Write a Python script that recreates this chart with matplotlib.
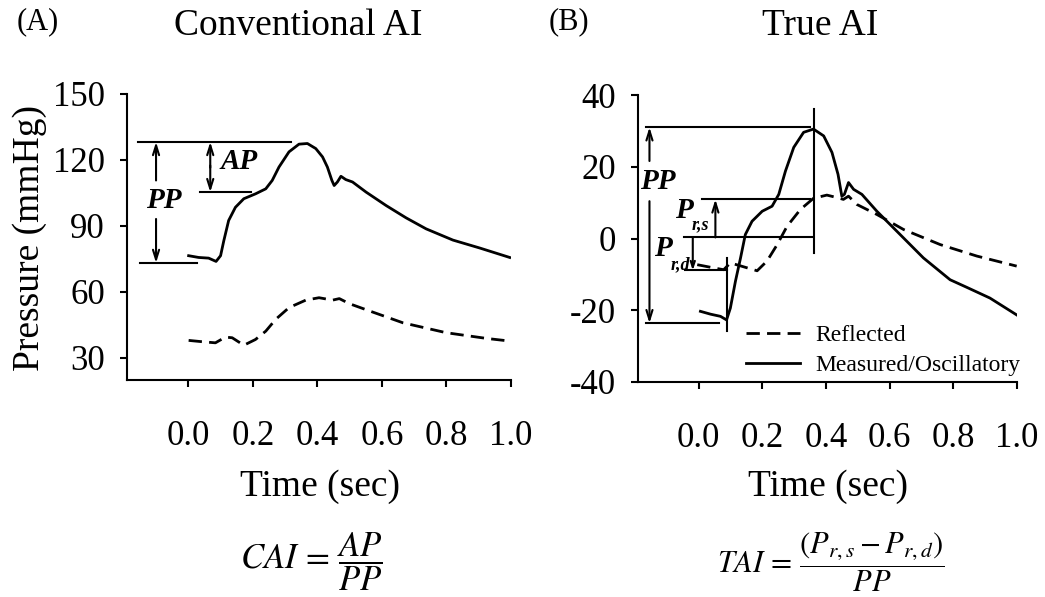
import numpy as np
import matplotlib
matplotlib.use("Agg")
import matplotlib.pyplot as plt
from matplotlib.lines import Line2D

plt.rcParams["font.family"] = ["Liberation Serif", "DejaVu Serif"]
plt.rcParams["mathtext.fontset"] = "stix"
plt.rcParams["axes.unicode_minus"] = False

# ---- Panel A: conventional augmentation index (absolute pressure, mmHg) ----
t_cai_meas = [0.001, 0.032, 0.063, 0.086, 0.10, 0.11, 0.125, 0.146, 0.172, 0.208,
              0.24, 0.26, 0.281, 0.312, 0.343, 0.369, 0.395, 0.416, 0.431, 0.445,
              0.452, 0.462, 0.473, 0.488, 0.509, 0.551, 0.613, 0.675, 0.737, 0.82,
              0.903, 0.996]
p_cai_meas = [76.5, 75.7, 75.4, 73.9, 76.5, 83.3, 92.5, 98.5, 102.4, 104.6,
              106.9, 110.7, 116.8, 123.7, 127.2, 127.5, 125.2, 121.4, 116.8, 110.7,
              108.4, 110.0, 112.6, 111.1, 110.0, 105.4, 99.3, 93.7, 88.7, 83.6,
              80.0, 75.7]

t_cai_refl = [0.001, 0.043, 0.084, 0.115, 0.136, 0.172, 0.208, 0.24, 0.271, 0.312,
              0.364, 0.405, 0.447, 0.468, 0.499, 0.571, 0.665, 0.799, 0.924, 0.996]
p_cai_refl = [38.0, 37.4, 36.9, 39.5, 39.2, 35.8, 38.4, 42.2, 47.6, 52.9,
              56.3, 57.4, 56.3, 57.0, 54.7, 50.9, 46.0, 41.5, 38.9, 37.7]

cai_peak = 128.2
cai_inflection = 105.4
cai_foot = 73.2

# ---- Panel B: true augmentation index (oscillatory pressure, mmHg) ----
t_tai_meas = [0.006, 0.038, 0.069, 0.088, 0.10, 0.116, 0.132, 0.147, 0.168, 0.20,
              0.231, 0.252, 0.273, 0.299, 0.33, 0.361, 0.393, 0.419, 0.438, 0.45,
              0.458, 0.471, 0.487, 0.513, 0.56, 0.623, 0.706, 0.79, 0.842, 0.915,
              0.999]
p_tai_meas = [-20.3, -21.1, -21.7, -22.7, -19.4, -11.9, -5.4, 1.1, 4.8, 7.6,
              9.0, 12.3, 18.8, 25.4, 29.6, 30.5, 28.6, 24.0, 17.9, 11.8,
              12.3, 15.6, 13.7, 12.3, 7.6, 2.0, -5.4, -11.5, -13.6, -16.6,
              -21.3]

t_tai_refl = [-0.004, 0.048, 0.079, 0.10, 0.184, 0.215, 0.247, 0.278, 0.32, 0.361,
              0.403, 0.435, 0.455, 0.471, 0.497, 0.56, 0.644, 0.759, 0.874, 0.999]
p_tai_refl = [-7.3, -8.2, -8.7, -6.8, -9.0, -6.3, -1.7, 3.4, 8.1, 11.2,
              12.1, 11.4, 10.9, 11.8, 9.5, 6.7, 2.5, -1.7, -4.9, -7.7]

tai_peak = 31.0
tai_prs = 10.9
tai_zero = 0.3
tai_prd = -8.9
tai_foot = -23.6

time_ticks = [0.0, 0.2, 0.4, 0.6, 0.8, 1.0]
time_labels = ["0.0", "0.2", "0.4", "0.6", "0.8", "1.0"]

W, H = 1045, 597
fig = plt.figure(figsize=(W / 100, H / 100), dpi=100)

ax_a = fig.add_axes([127 / W, 1 - 380 / H, 384 / W, 286 / H])
ax_b = fig.add_axes([638 / W, 1 - 382 / H, 379 / W, 287 / H])

LW = 2.0
DASH = (0, (4.8, 2.6))
TICK_FS = 25
LABEL_FS = 27

for ax in (ax_a, ax_b):
    for s in ("top", "right"):
        ax.spines[s].set_visible(False)
    for s in ("left", "bottom"):
        ax.spines[s].set_linewidth(1.5)
    ax.set_xlim(-0.19, 1.0)
    ax.set_xticks(time_ticks)
    ax.set_xticklabels(time_labels)
    ax.tick_params(axis="x", direction="out", length=5, width=1.5, pad=24,
                   labelsize=TICK_FS)
    ax.tick_params(axis="y", direction="out", length=5, width=1.5, pad=11,
                   labelsize=TICK_FS)
    ax.set_facecolor("none")

# ---- draw panel A ----
ax_a.set_ylim(20, 150)
ax_a.set_yticks([30, 60, 90, 120, 150])
ax_a.plot(t_cai_meas, p_cai_meas, color="black", lw=LW, solid_joinstyle="round")
ax_a.plot(t_cai_refl, p_cai_refl, color="black", lw=LW, linestyle=DASH)

ann_lw = 1.5
ax_a.plot([-0.155, 0.317], [cai_peak, cai_peak], color="black", lw=ann_lw)
ax_a.plot([0.037, 0.193], [cai_inflection, cai_inflection], color="black", lw=ann_lw)
ax_a.plot([-0.149, 0.027], [cai_foot, cai_foot], color="black", lw=ann_lw)

arrow_kw = dict(arrowstyle="->,head_length=0.7,head_width=0.22", lw=ann_lw,
                color="black", shrinkA=0, shrinkB=0)
ax_a.annotate("", xy=(-0.1, cai_peak), xytext=(-0.1, 110.7), arrowprops=arrow_kw)
ax_a.annotate("", xy=(-0.1, cai_foot), xytext=(-0.1, 93.2), arrowprops=arrow_kw)
ax_a.annotate("", xy=(0.068, cai_peak), xytext=(0.068, 116.5), arrowprops=arrow_kw)
ax_a.annotate("", xy=(0.068, cai_inflection), xytext=(0.068, 117.5), arrowprops=arrow_kw)

bi = dict(fontweight="bold", fontstyle="italic", color="black")
ax_a.text(-0.077, 101.5, "PP", fontsize=21, ha="center", va="center", **bi)
ax_a.text(0.156, 119.3, "AP", fontsize=21, ha="center", va="center", **bi)

# ---- draw panel B ----
ax_b.set_ylim(-40, 40)
ax_b.set_yticks([-40, -20, 0, 20, 40])
ax_b.plot(t_tai_meas, p_tai_meas, color="black", lw=LW, solid_joinstyle="round")
ax_b.plot(t_tai_refl, p_tai_refl, color="black", lw=LW, linestyle=DASH)

ax_b.plot([-0.166, 0.349], [tai_peak, tai_peak], color="black", lw=ann_lw)
ax_b.plot([0.364, 0.364], [36.1, -4.0], color="black", lw=ann_lw)
ax_b.plot([0.012, 0.351], [tai_prs, tai_prs], color="black", lw=ann_lw)
ax_b.plot([-0.046, 0.356], [tai_zero, tai_zero], color="black", lw=ann_lw)
ax_b.plot([-0.041, 0.09], [tai_prd, tai_prd], color="black", lw=ann_lw)
ax_b.plot([-0.166, 0.064], [tai_foot, tai_foot], color="black", lw=ann_lw)
ax_b.plot([0.088, 0.088], [-5.4, -25.9], color="black", lw=ann_lw)

ax_b.annotate("", xy=(-0.154, tai_peak), xytext=(-0.154, 21.6), arrowprops=arrow_kw)
ax_b.annotate("", xy=(-0.154, tai_foot), xytext=(-0.154, 10.4), arrowprops=arrow_kw)
ax_b.annotate("", xy=(0.053, tai_prs), xytext=(0.053, tai_zero), arrowprops=arrow_kw)
small_arrow = dict(arrow_kw)
small_arrow["arrowstyle"] = "->,head_length=0.45,head_width=0.15"
ax_b.annotate("", xy=(-0.018, tai_prd), xytext=(-0.018, tai_zero), arrowprops=small_arrow)

ax_b.text(-0.127, 15.8, "PP", fontsize=21, ha="center", va="center", **bi)
ax_b.text(-0.045, 7.9, "P", fontsize=21, ha="center", va="center", **bi)
ax_b.text(0.005, 3.7, "r,s", fontsize=13, ha="center", va="center", **bi)
ax_b.text(-0.112, -2.9, "P", fontsize=21, ha="center", va="center", **bi)
ax_b.text(-0.058, -7.2, "r,d", fontsize=13, ha="center", va="center", **bi)

handles = [Line2D([], [], color="black", lw=LW, linestyle=DASH),
           Line2D([], [], color="black", lw=LW)]
ax_b.legend(handles, ["Reflected", "Measured/Oscillatory"], loc="lower right",
            bbox_to_anchor=(1.01, 0.02), frameon=False, fontsize=17,
            handlelength=2.3, handletextpad=0.65, labelspacing=0.35,
            borderaxespad=0, borderpad=0)

# ---- figure-level text ----
def ftext(x, y, s, **kw):
    fig.text(x / W, 1 - y / H, s, **kw)

ftext(38, 22, "(A)", fontsize=22, ha="center", va="center")
ftext(298, 26, "Conventional AI", fontsize=27, ha="center", va="center")
ftext(569, 22, "(B)", fontsize=22, ha="center", va="center")
ftext(820, 26, "True AI", fontsize=27, ha="center", va="center")

ftext(30, 238, "Pressure (mmHg)", fontsize=LABEL_FS, rotation=90,
      ha="center", va="center")
ftext(320, 487, "Time (sec)", fontsize=LABEL_FS, ha="center", va="center")
ftext(828, 487, "Time (sec)", fontsize=LABEL_FS, ha="center", va="center")

ftext(311, 562, r"$CAI\,=\,\dfrac{AP}{PP}$", fontsize=25, ha="center", va="center")
ftext(831, 562, r"$TAI\,=\,\dfrac{(P_{r,s}-P_{r,d})}{PP}$", fontsize=22,
      ha="center", va="center")

fig.savefig("out.png", dpi=100, facecolor="white")
